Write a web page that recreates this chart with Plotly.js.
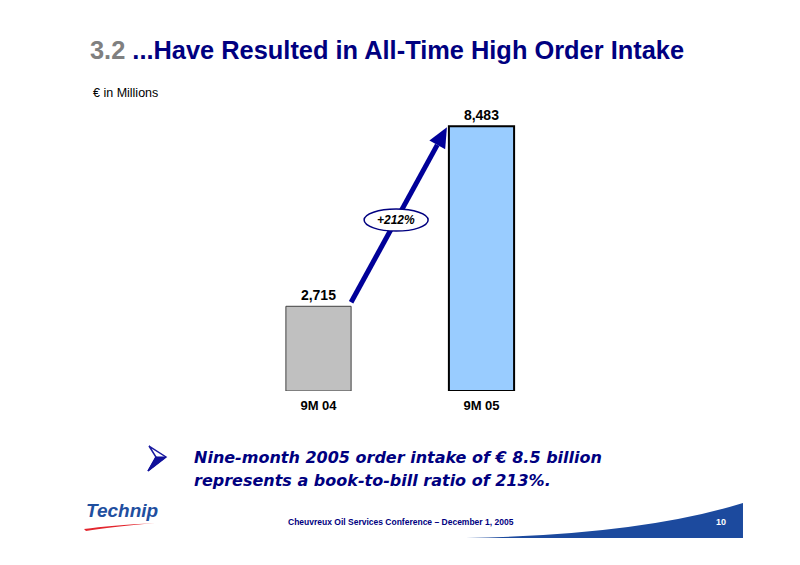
<!DOCTYPE html>
<html><head><meta charset="utf-8">
<script src="https://cdn.plot.ly/plotly-3.0.1.min.js"></script>
<style>body{margin:0;background:#fff}#c{width:800px;height:565px}</style>
</head><body><div id="c"></div>
<script>
const categories = ['9M 04', '9M 05'];
const values = [2715, 8483];
const barColors = ['#C0C0C0', '#99CCFF'];
const barLines = ['#404040', '#000000'];
const growthLabel = '+212%';
const titleNum = '3.2';
const titleText = '...Have Resulted in All-Time High Order Intake';
const unitLabel = '€ in Millions';
const bulletLines = ['Nine-month 2005 order intake of € 8.5 billion', 'represents a book-to-bill ratio of 213%.'];
const footerText = 'Cheuvreux Oil Services Conference – December 1, 2005';
const pageNum = '10';

const W = 800, H = 565, mL = 237, mR = 237, mT = 79, mB = 174;
const pw = W - mL - mR, ph = H - mT - mB;
const yMax = 10000, barW = 0.4;
const px = x => (x - mL) / pw;          // pixel -> paper x
const py = y => (H - mB - y) / ph;      // pixel -> paper y
const dx = i => mL + (i + 0.5) * pw / categories.length; // data idx -> pixel
const dy = v => H - mB - v / yMax * ph;

// arrow geometry from data
const sx = dx(0 + barW / 2) , sy = dy(values[0]) - 4;
const tx = dx(1 - barW / 2) - 2, ty = dy(values[1]) + 1;
const vx = tx - sx, vy = ty - sy, len = Math.hypot(vx, vy);
const ux = vx / len, uy = vy / len, nx = -uy, ny = ux;
const hl = 20, hw = 9;
const bx = tx - hl * ux, by = ty - hl * uy;
const P = (x, y) => px(x).toFixed(4) + ',' + py(y).toFixed(4);
const mx = sx + vx * 0.47, my = sy + vy * 0.47;

const shapes = [
  {type:'line', xref:'paper', yref:'paper', x0:px(sx), y0:py(sy), x1:px(bx), y1:py(by), line:{color:'#000099', width:5}},
  {type:'path', xref:'paper', yref:'paper', path:'M' + P(tx,ty) + 'L' + P(bx+hw*nx, by+hw*ny) + 'L' + P(bx-hw*nx, by-hw*ny) + 'Z', fillcolor:'#000099', line:{width:0}},
  {type:'circle', xref:'paper', yref:'paper', x0:px(mx-32), x1:px(mx+32), y0:py(my+11), y1:py(my-11), fillcolor:'#ffffff', line:{color:'#000080', width:1.5}},
  // bullet chevron: outlined upper half, filled lower half
  {type:'path', xref:'paper', yref:'paper', path:'M'+P(149,446)+'L'+P(166,457)+'L'+P(148,471)+'L'+P(156,457)+'Z', fillcolor:'#ffffff', line:{color:'#1a1aa0', width:1.5}},
  {type:'path', xref:'paper', yref:'paper', path:'M'+P(166,457)+'L'+P(148,471)+'L'+P(156,457)+'Z', fillcolor:'#10109a', line:{color:'#10109a', width:1}},
  // footer swoosh
  {type:'path', xref:'paper', yref:'paper', path:'M'+P(466,538)+'Q'+P(640,535)+' '+P(743,503)+'L'+P(743,538)+'Z', fillcolor:'#1C4A9E', line:{width:0}},
  // logo red swoosh
  {type:'path', xref:'paper', yref:'paper', path:'M'+P(84,529)+'Q'+P(110,525.5)+' '+P(155,523)+'Q'+P(110,527)+' '+P(86,531)+'Z', fillcolor:'#E3262E', line:{width:0}}
];

const A = (x, y, text, size, color, family, xanchor) => ({xref:'paper', yref:'paper', x:px(x), y:py(y), xanchor:xanchor||'center', yanchor:'middle', text:text, showarrow:false, font:{family:family||'Liberation Sans, Arial', size:size, color:color}});

const annotations = [
  A(mx, my, '<b><i>'+growthLabel+'</i></b>', 12, '#000'),
  A(91, 93, unitLabel, 12.5, '#000', null, 'left'),
  A(192, 458, '<b><i>'+bulletLines[0]+'</i></b>', 16, '#000080', 'DejaVu Sans', 'left'),
  A(192, 481, '<b><i>'+bulletLines[1]+'</i></b>', 16, '#000080', 'DejaVu Sans', 'left'),
  A(122, 510, '<b><i>Technip</i></b>', 19, '#1F4F9F'),
  A(401, 522, '<b>'+footerText+'</b>', 8.5, '#000080'),
  A(721, 522, '<b>'+pageNum+'</b>', 9, '#ffffff')
];

const trace = {
  type:'bar', x:categories, y:values, width:barW,
  marker:{color:barColors, line:{color:barLines, width:[1,2]}},
  text:values.map(v => v.toLocaleString('en-US')), textposition:'outside', cliponaxis:false,
  textfont:{family:'Liberation Sans, Arial', size:14, color:'#000', weight:'bold'},
  hoverinfo:'skip'
};

const layout = {
  width:W, height:H, paper_bgcolor:'#fff', plot_bgcolor:'#fff', showlegend:false,
  margin:{l:mL, r:mR, t:mT, b:mB, pad:0},
  title:{text:'<span style="color:#808080">'+titleNum+'</span> '+titleText, xref:'container', yref:'container', x:90/W, xanchor:'left', y:1-50/H, yanchor:'middle', font:{family:'Liberation Sans, Arial', size:25.4, color:'#000080', weight:'bold'}},
  xaxis:{type:'category', range:[-0.5, 1.5], showgrid:false, zeroline:false, showline:false, ticks:'', ticklabelstandoff:5, tickfont:{family:'Liberation Sans, Arial', size:13, color:'#000', weight:'bold'}},
  yaxis:{range:[0, yMax], visible:false},
  shapes:shapes, annotations:annotations
};
Plotly.newPlot('c', [trace], layout, {staticPlot:true});
</script></body></html>
